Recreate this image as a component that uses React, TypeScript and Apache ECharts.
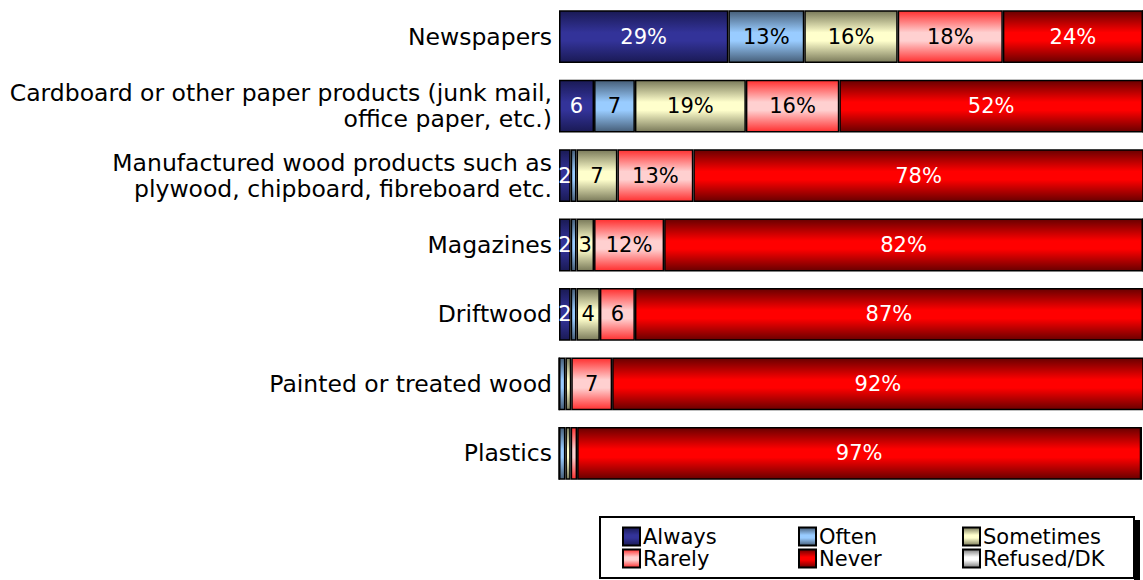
import React, { useEffect, useRef } from "react";
import * as echarts from "echarts";

const categories = [
  "Newspapers",
  "Cardboard or other paper products (junk mail,\noffice paper, etc.)",
  "Manufactured wood products such as\nplywood, chipboard, fibreboard etc.",
  "Magazines",
  "Driftwood",
  "Painted or treated wood",
  "Plastics",
];

const seriesNames = ["Always", "Often", "Sometimes", "Rarely", "Never", "Refused/DK"];

const always = [29, 6, 2, 2, 2, 0, 0];
const often = [13, 7, 1, 1, 1, 1.1, 1.1];
const sometimes = [16, 19, 7, 3, 4, 1, 0.9];
const rarely = [18, 16, 13, 12, 6, 7, 1.1];
const never = [24, 52, 77.5, 82, 87, 91.5, 96.6];
const refused = [0, 0, 0, 0, 0, 0, 0];

const seriesValues = [always, often, sometimes, rarely, never, refused];

const edgeColors = ["#1a1a55", "#465e78", "#7a7a5a", "#ff3030", "#6a0000", "#7a7a7a"];
const centerColors = ["#333399", "#99ccff", "#ffffcc", "#ffd0d0", "#ff0000", "#ffffff"];
const labelColors = ["#ffffff", "#000000", "#000000", "#000000", "#ffffff", "#000000"];

const FONT = "DejaVu Sans";

function grad(edge: string, center: string) {
  return new echarts.graphic.LinearGradient(0, 0, 0, 1, [
    { offset: 0, color: edge },
    { offset: 0.42, color: center },
    { offset: 0.58, color: center },
    { offset: 1, color: edge },
  ]);
}

export default function App() {
  const ref = useRef<HTMLDivElement>(null);
  useEffect(() => {
    if (!ref.current) return;
    const chart = echarts.init(ref.current, null, { renderer: "svg" });
    const legendBase = {
      orient: "vertical" as const,
      top: 521,
      itemWidth: 17,
      itemHeight: 18,
      itemGap: 1,
      icon: "rect",
      selectedMode: false,
      textStyle: {
        fontSize: 21,
        lineHeight: 20,
        fontFamily: FONT,
        color: "#000",
        padding: [0, 0, 0, -2],
      },
    };
    chart.setOption({
      animation: false,
      backgroundColor: "#ffffff",
      grid: { left: 559, right: -6, top: 2, bottom: 92 },
      xAxis: { type: "value", min: 0, max: 100, show: false },
      yAxis: {
        type: "category",
        inverse: true,
        data: categories,
        axisLine: { show: false },
        axisTick: { show: false },
        splitLine: { show: false },
        axisLabel: {
          fontSize: 23.5,
          fontFamily: FONT,
          color: "#000",
          lineHeight: 26,
          margin: 7,
        },
      },
      legend: [
        { ...legendBase, left: 617, data: ["Always", "Rarely"] },
        { ...legendBase, left: 793, data: ["Often", "Never"] },
        { ...legendBase, left: 957, data: ["Sometimes", "Refused/DK"] },
      ],
      graphic: [
        {
          type: "rect",
          z: 0,
          shape: { x: 1134, y: 520, width: 6, height: 62 },
          style: { fill: "#000" },
        },
        {
          type: "rect",
          z: 1,
          shape: { x: 600, y: 517, width: 534, height: 61 },
          style: { fill: "#fff", stroke: "#000", lineWidth: 2 },
        },
      ],
      series: seriesNames.map((name, i) => ({
        name,
        type: "bar",
        stack: "total",
        barCategoryGap: "24%",
        data: seriesValues[i],
        itemStyle: {
          color: grad(edgeColors[i], centerColors[i]),
          borderColor: "#000",
          borderWidth: 1.5,
        },
        label: {
          show: true,
          position: "inside",
          color: labelColors[i],
          fontSize: 21,
          fontFamily: FONT,
          formatter: (p: any) => {
            const r = Math.round(p.value);
            if (r < 2) return "";
            return r < 10 ? `${r}` : `${r}%`;
          },
        },
      })),
    });
    return () => chart.dispose();
  }, []);
  return (
    <div
      ref={ref}
      style={{ position: "fixed", left: 0, top: 0, width: 1143, height: 580, overflow: "hidden" }}
    />
  );
}
